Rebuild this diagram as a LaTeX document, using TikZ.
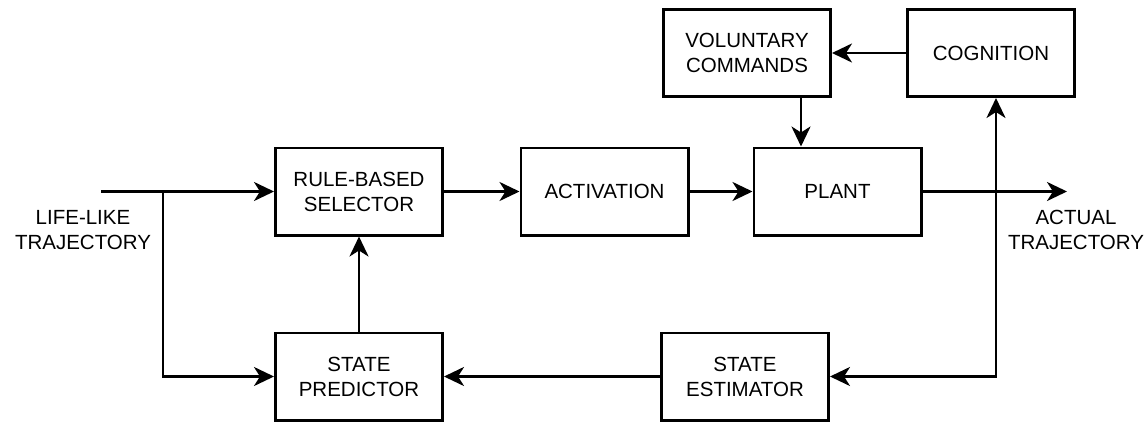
\documentclass[tikz,border=0pt]{standalone}
\usepackage{fontspec}
\setmainfont{Liberation Sans}
\usetikzlibrary{arrows.meta}
\begin{document}
\begin{tikzpicture}[x=1pt,y=-1pt]
	\tikzset{
		every node/.style={font=\fontsize{20.5}{25}\selectfont,align=center,inner sep=0pt},
		% khung khoi
		block/.style={draw,line width=2.8pt,minimum width=167.2pt,minimum height=87.2pt},
		% duong noi
		wire/.style={line width=2.8pt},
		arr/.style={wire,-{Stealth[length=20pt,width=19pt,inset=6pt]}},
		arrs/.style={wire,{Stealth[length=20pt,width=19pt,inset=6pt]}-{Stealth[length=20pt,width=19pt,inset=6pt]}},
	}
	\useasboundingbox (0,0) rectangle (1148,423);
	%
	\node[block] (sel) at (359,191.5) {RULE-BASED\\SELECTOR};
	\node[block] (act) at (604.5,191.5) {ACTIVATION};
	\node[block] (plant) at (837.5,191.5) {PLANT};
	\node[block] (vol) at (747,53) {VOLUNTARY\\COMMANDS};
	\node[block] (cog) at (991,53) {COGNITION};
	\node[block] (pred) at (359,376.5) {STATE\\PREDICTOR};
	\node[block] (est) at (745,376.5) {STATE\\ESTIMATOR};
	%
	\node (lin) at (83,230) {LIFE-LIKE\\TRAJECTORY};
	\node (lout) at (1076,230) {ACTUAL\\TRAJECTORY};
	%
	\coordinate (in) at (101,191.5);
	\coordinate (tap) at (163,191.5);
	\coordinate (out) at (1067,191.5);
	\coordinate (fb) at (996,376.5);
	\coordinate (cmd) at ([xshift=54pt]vol.south);
	%
	\draw[arr](in)--(sel);
	\draw[arr](tap)|-(pred);
	\draw[arr](sel)--(act);
	\draw[arr](act)--(plant);
	\draw[arr](plant)--(out);
	\draw[arr](cog)--(vol);
	\draw[arr](cmd)--(cmd |- plant.north);
	\draw[arrs](cog.south -| fb)--(fb)--(est.east);
	\draw[arr](est)--(pred);
	\draw[arr](pred)--(sel);
\end{tikzpicture}
\end{document}
